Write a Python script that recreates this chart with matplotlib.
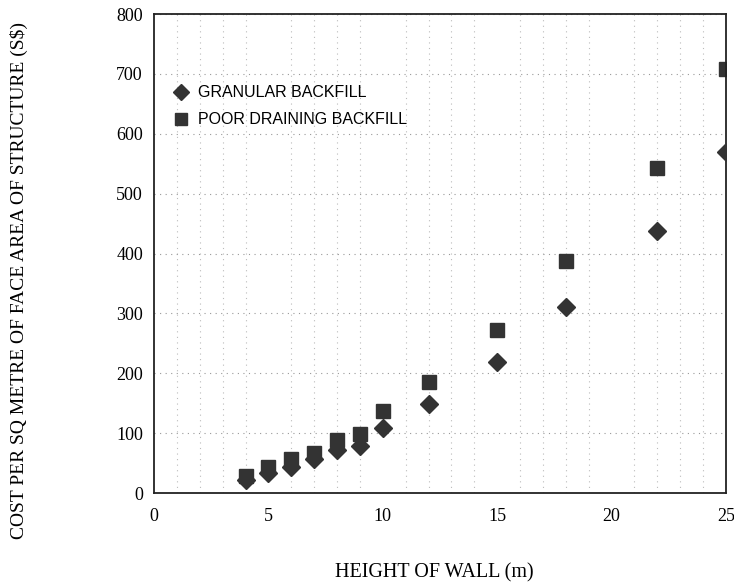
import matplotlib.pyplot as plt
import numpy as np

# Tinggi dinding (m) dan kos per meter persegi (S$)
tinggi = [4, 5, 6, 7, 8, 9, 10, 12, 15, 18, 22, 25]
kos_granular = [22, 34, 44, 56, 71, 79, 109, 149, 218, 310, 437, 570]
kos_poor = [28, 44, 56, 67, 89, 99, 137, 186, 273, 387, 543, 708]

x_ticks = [0, 5, 10, 15, 20, 25]
y_ticks = [0, 100, 200, 300, 400, 500, 600, 700, 800]

warna = "#333333"
serif = ["Liberation Serif", "DejaVu Serif"]

fig = plt.figure(figsize=(7.34, 5.86), dpi=100)
ax = fig.add_axes([0.2098, 0.1587, 0.7792, 0.8173])

ax.plot(tinggi, kos_granular, linestyle="none", marker="D", markersize=9,
        color=warna, label="GRANULAR BACKFILL", zorder=3)
ax.plot(tinggi, kos_poor, linestyle="none", marker="s", markersize=10.5,
        color=warna, label="POOR DRAINING BACKFILL", zorder=2)

ax.set_xlim(0, 25)
ax.set_ylim(0, 800)
ax.set_xticks(x_ticks)
ax.set_yticks(y_ticks)
ax.set_xticks(np.arange(0, 26, 1), minor=True)

ax.grid(which="minor", axis="x", color="#bbbbbb", linestyle=(0, (1, 4)), linewidth=0.8)
ax.grid(which="major", axis="y", color="#999999", linestyle=(0, (1, 4)), linewidth=0.8)

ax.tick_params(axis="both", which="both", length=0)
ax.tick_params(axis="y", pad=8)
ax.tick_params(axis="x", pad=11)
for lbl in ax.get_xticklabels() + ax.get_yticklabels():
    lbl.set_family(serif)
    lbl.set_fontsize(13)

for sp in ax.spines.values():
    sp.set_linewidth(1.3)
    sp.set_color("#222222")

ax.set_xlabel("HEIGHT OF WALL (m)", family=serif, fontsize=14.5)
ax.set_ylabel("COST PER SQ METRE OF FACE AREA OF STRUCTURE (S$)", family=serif,
              fontsize=14)
# posisi label ikut gambar asal
ax.xaxis.set_label_coords((434 - 154) / 572, -(573 - 493) / 479)
ax.yaxis.set_label_coords(-(154 - 19) / 572, (493 - 280) / 479)
ax.xaxis.label.set_va("center")
ax.yaxis.label.set_va("center")

ax.legend(loc="upper left", bbox_to_anchor=(0.0, 0.875), frameon=False,
          handletextpad=0.05, labelspacing=0.75, borderaxespad=0.3,
          markerscale=0.85,
          prop={"family": ["Liberation Sans", "DejaVu Sans"], "size": 11.5})

fig.savefig("out.png", dpi=100)
